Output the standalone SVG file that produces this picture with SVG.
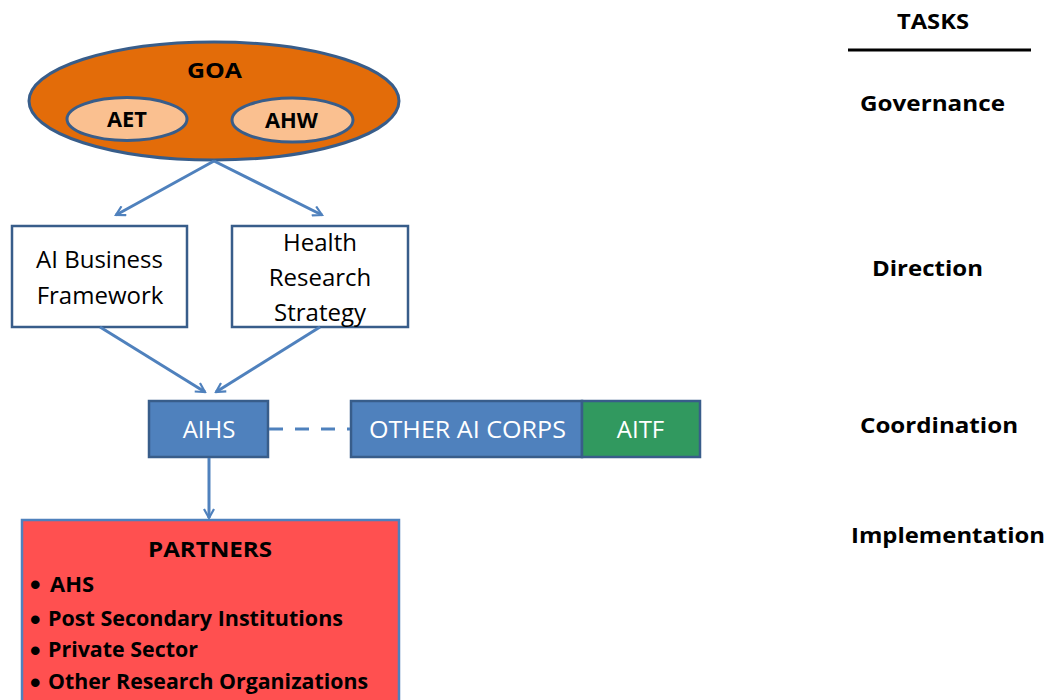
<svg xmlns="http://www.w3.org/2000/svg" width="1049" height="700" viewBox="0 0 1049 700">
<style>
text{font-family:"Open Sans","Liberation Sans",sans-serif;fill:#000}
.t{font-size:22px;font-weight:bold;text-anchor:middle}
.n{font-size:24px;text-anchor:middle}
.w{font-size:24px;text-anchor:middle;fill:#fff}
.box{fill:#fff;stroke:#385D8A;stroke-width:2.5}
.blue{fill:#4F81BD;stroke:#385D8A;stroke-width:2.5}
.conn{stroke:#4F81BD;stroke-width:3;fill:none}
.li{font-size:21px;font-weight:bold}
.bu{font-size:30px;font-weight:bold;font-family:"Liberation Sans",sans-serif}
</style>
<defs>
<marker id="ah" viewBox="0 0 12 12" refX="10" refY="6" markerWidth="12" markerHeight="12" markerUnits="userSpaceOnUse" orient="auto">
<path d="M1,1 L10,6 L1,11" fill="none" stroke="#4F81BD" stroke-width="2.2"/>
</marker>
</defs>
<rect width="1049" height="700" fill="#fff"/>
<g id="goa">
<ellipse cx="214" cy="101" rx="185" ry="59" fill="#E36C09" stroke="#385D8A" stroke-width="3"/>
<text class="t" x="214.5" y="78" textLength="55" lengthAdjust="spacingAndGlyphs">GOA</text>
</g>
<g id="aet">
<ellipse cx="127" cy="119" rx="60" ry="21.5" fill="#FAC090" stroke="#385D8A" stroke-width="3"/>
<text class="t" x="127" y="127" style="font-size:21px" textLength="40" lengthAdjust="spacingAndGlyphs">AET</text>
</g>
<g id="ahw">
<ellipse cx="292.5" cy="120" rx="60.5" ry="22" fill="#FAC090" stroke="#385D8A" stroke-width="3"/>
<text class="t" x="291.5" y="128" style="font-size:21px" textLength="53" lengthAdjust="spacingAndGlyphs">AHW</text>
</g>
<g id="aibf">
<rect class="box" x="12" y="226" width="175" height="101"/>
<text class="n" x="99.5" y="268">AI Business</text>
<text class="n" x="100" y="304">Framework</text>
</g>
<g id="hrs">
<rect class="box" x="232" y="226" width="176" height="101"/>
<text class="n" x="320" y="251">Health</text>
<text class="n" x="320" y="286">Research</text>
<text class="n" x="320" y="321">Strategy</text>
</g>
<g id="aihs">
<rect class="blue" x="149" y="401" width="119" height="56"/>
<text class="w" x="209" y="438">AIHS</text>
</g>
<g id="otherai">
<rect class="blue" x="351" y="401" width="231" height="56"/>
<text class="w" x="467.5" y="438" textLength="197" lengthAdjust="spacingAndGlyphs">OTHER AI CORPS</text>
</g>
<g id="aitf">
<rect x="582" y="401" width="118" height="56" fill="#31995F" stroke="#385D8A" stroke-width="2.5"/>
<text class="w" x="640.5" y="438">AITF</text>
</g>
<g id="partners">
<rect x="22" y="520" width="377" height="190" fill="#FF5050" stroke="#4F81BD" stroke-width="2.5"/>
<text class="t" x="210" y="557" textLength="124" lengthAdjust="spacingAndGlyphs">PARTNERS</text>
<text class="bu" x="30" y="595">•</text>
<text class="li" x="50" y="592" textLength="44" lengthAdjust="spacingAndGlyphs">AHS</text>
<text class="bu" x="30" y="630">•</text>
<text class="li" x="48" y="626" textLength="295" lengthAdjust="spacingAndGlyphs">Post Secondary Institutions</text>
<text class="bu" x="30" y="661">•</text>
<text class="li" x="48" y="657" textLength="150" lengthAdjust="spacingAndGlyphs">Private Sector</text>
<text class="bu" x="30" y="693">•</text>
<text class="li" x="48" y="689" textLength="320" lengthAdjust="spacingAndGlyphs">Other Research Organizations</text>
</g>
<g id="tasks">
<text class="t" x="933" y="29" textLength="72" lengthAdjust="spacingAndGlyphs">TASKS</text>
<line x1="848" y1="50" x2="1031" y2="50" stroke="#000" stroke-width="3"/>
<text class="t" x="932.5" y="111" textLength="145" lengthAdjust="spacingAndGlyphs">Governance</text>
<text class="t" x="927.5" y="276" textLength="111" lengthAdjust="spacingAndGlyphs">Direction</text>
<text class="t" x="939" y="433" textLength="158" lengthAdjust="spacingAndGlyphs">Coordination</text>
<text class="t" x="948" y="543" textLength="194" lengthAdjust="spacingAndGlyphs">Implementation</text>
</g>
<g id="connectors">
<line class="conn" x1="214" y1="161" x2="116" y2="215" marker-end="url(#ah)"/>
<line class="conn" x1="214" y1="161" x2="322" y2="215" marker-end="url(#ah)"/>
<line class="conn" x1="100" y1="327" x2="205" y2="392" marker-end="url(#ah)"/>
<line class="conn" x1="320" y1="327" x2="216" y2="392" marker-end="url(#ah)"/>
<line class="conn" x1="209" y1="458" x2="209" y2="518" marker-end="url(#ah)"/>
<line class="conn" x1="269" y1="429" x2="350" y2="429" stroke-dasharray="14,12"/>
</g>
</svg>
